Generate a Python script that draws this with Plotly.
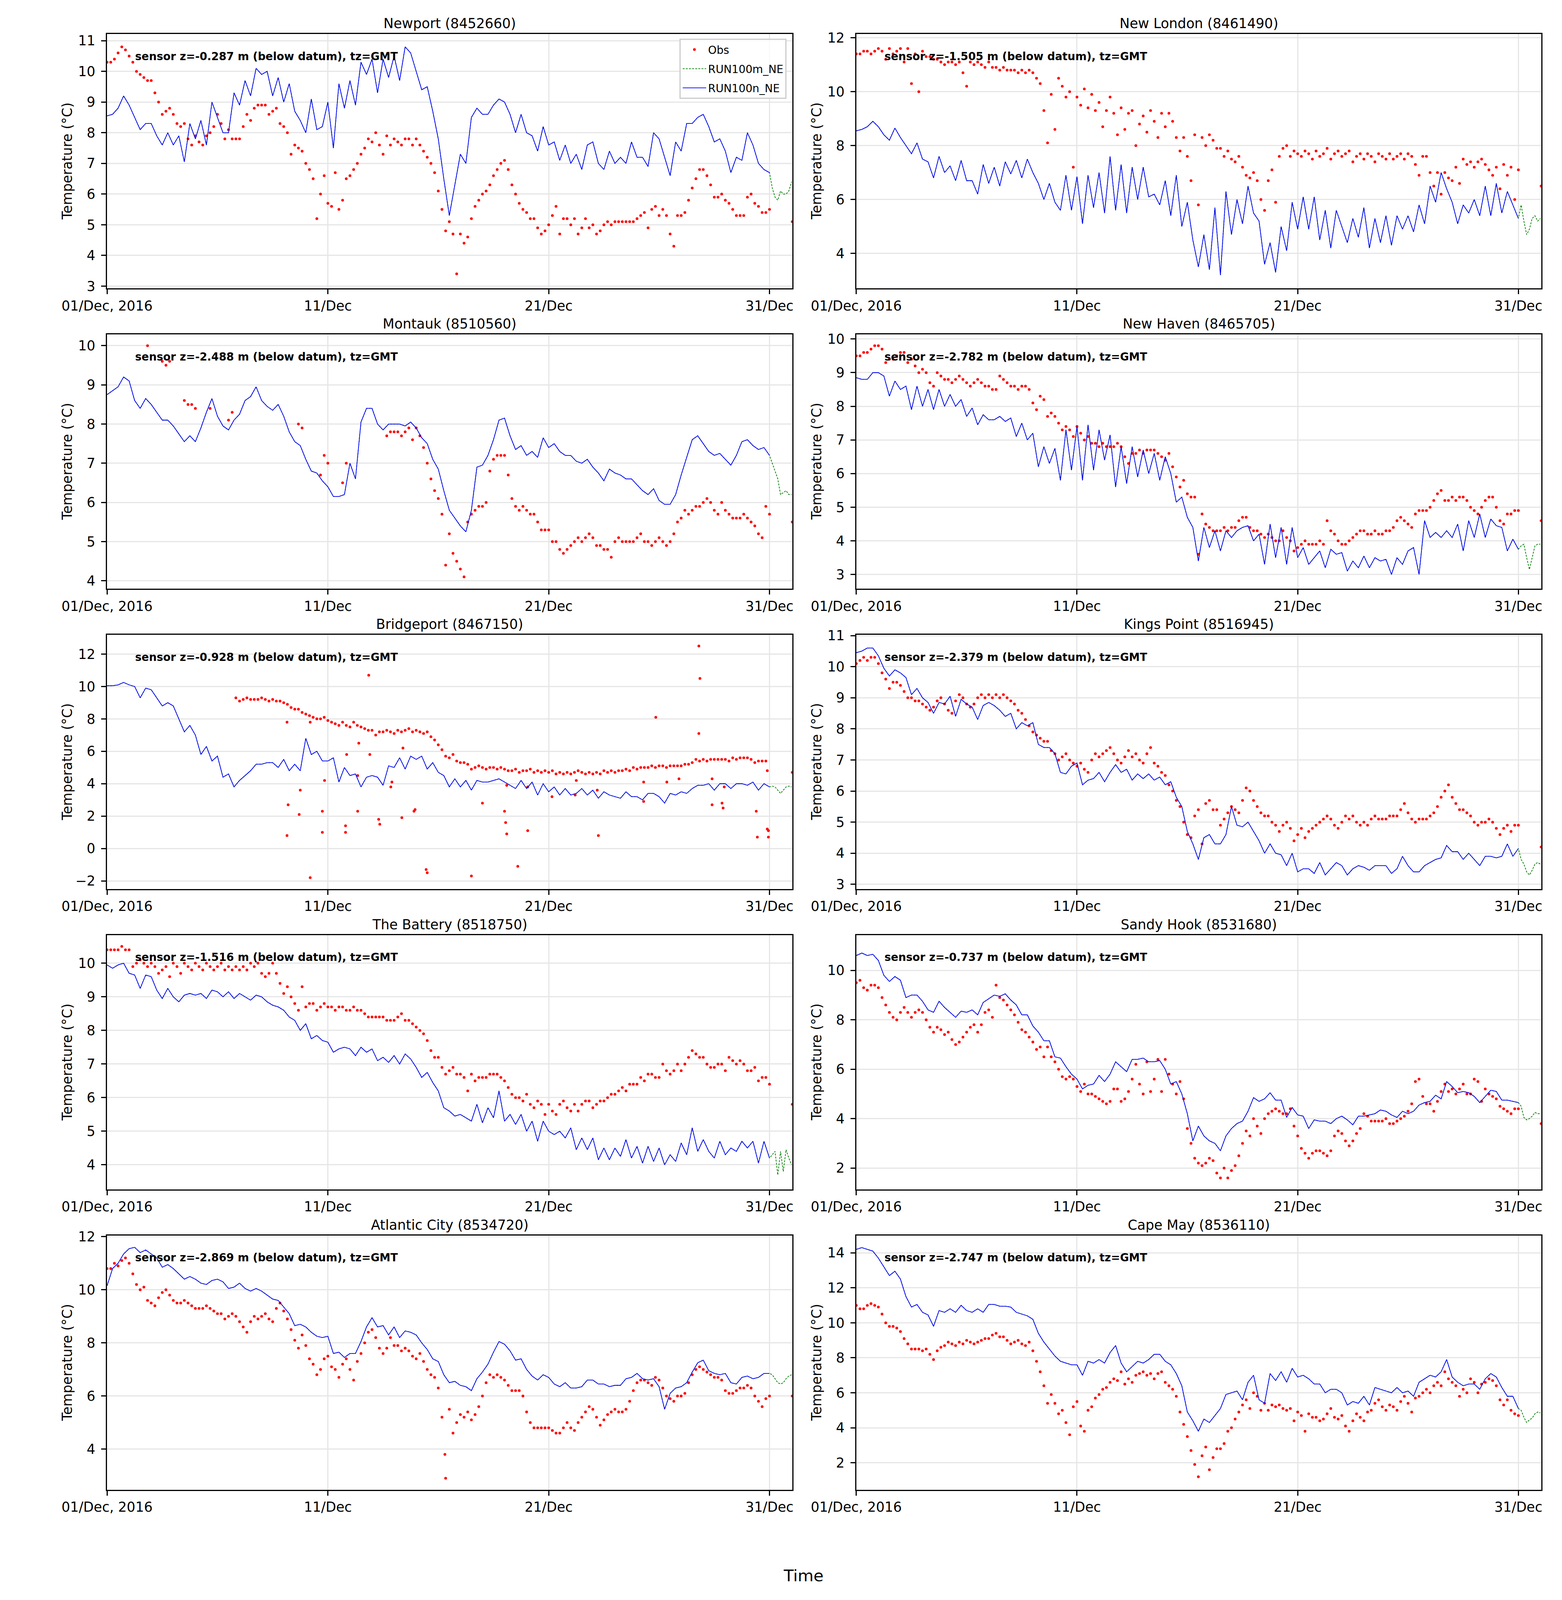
import pandas as pd
import plotly.graph_objects as go
from plotly.subplots import make_subplots

N = None

# model values every 6 h from 01/Dec 00:00 to 31/Dec 00:00 (RUN100n_NE, RUN100m_NE shares them)
# tails: RUN100m_NE only, every 3 h from 31/Dec 03:00 to 01/Jan 00:00
# obs: every 4 h from 01/Dec 00:00 to 31/Dec 00:00, plus one value at the end of the range

newport_model = [
    8.55, 8.6, 8.8, 9.2, 8.9, 8.5, 8.1, 8.3,
    8.3, 7.9, 7.6, 8.0, 7.6, 7.9, 7.05, 8.3,
    7.8, 8.4, 7.6, 9.0, 8.5, 8.0, 8.0, 9.3,
    8.9, 9.7, 9.2, 10.1, 9.9, 10.0, 9.2, 9.8,
    9.0, 9.6, 8.7, 8.4, 8.0, 9.1, 8.1, 8.2,
    9.0, 7.5, 9.6, 8.8, 9.7, 8.9, 10.3, 9.9,
    10.4, 9.3, 10.4, 9.8, 10.5, 9.7, 10.8, 10.6,
    10.0, 9.4, 9.5, 8.7, 7.8, 6.5, 5.3, 6.3,
    7.3, 7.0, 8.5, 8.8, 8.6, 8.6, 8.9, 9.1,
    9.0, 8.6, 8.0, 8.6, 8.0, 7.9, 7.4, 8.2,
    7.6, 7.7, 7.1, 7.6, 7.0, 7.3, 6.8, 7.6,
    7.7, 7.0, 6.8, 7.4, 7.0, 7.2, 7.0, 7.7,
    7.2, 7.2, 6.9, 8.0, 7.8, 7.2, 6.6, 7.7,
    7.4, 8.3, 8.3, 8.5, 8.6, 8.2, 7.7, 7.8,
    7.4, 6.7, 7.2, 7.1, 8.0, 7.6, 7.0, 6.8,
    6.7,
]
newport_tail = [6.2, 5.9, 5.8, 6.1, 6.0, 6.0, 6.1, 6.4]
newport_obs = [
    10.3, 10.3, 10.4, 10.6, 10.8, 10.7,
    10.5, 10.3, 10.0, 9.9, 9.8, 9.7,
    9.7, 9.3, 9.0, 8.6, 8.7, 8.8,
    8.6, 8.3, 8.2, 8.3, 7.8, 7.6,
    7.9, 7.7, 7.6, 7.9, 8.0, 8.2,
    8.6, 8.3, 7.8, 8.1, 7.8, 7.8,
    7.8, 8.2, 8.6, 8.4, 8.8, 8.9,
    8.9, 8.9, 8.6, 8.7, 8.8, 8.3,
    8.2, 8.0, 7.3, 7.6, 7.5, 7.4,
    7.0, 6.8, 6.5, 5.2, 6.0, 6.6,
    5.7, 5.6, 6.7, 5.5, 5.8, 6.5,
    6.6, 6.8, 7.0, 7.3, 7.5, 7.8,
    7.7, 8.0, 7.6, 7.3, 7.9, 7.6,
    7.8, 7.7, 7.6, 7.8, 7.8, 7.6,
    7.8, 7.6, 7.4, 7.2, 7.0, 6.7,
    6.1, 5.5, 4.8, 5.1, 4.7, 3.4,
    4.7, 4.4, 4.6, 5.2, 5.6, 5.8,
    6.0, 6.1, 6.3, 6.6, 6.8, 7.0,
    7.1, 6.8, 6.3, 6.0, 5.7, 5.5,
    5.4, 5.2, 5.2, 4.9, 4.7, 4.8,
    5.0, 5.3, 5.6, 4.7, 5.2, 5.2,
    5.0, 5.2, 4.7, 4.9, 5.2, 4.9,
    5.0, 4.7, 4.8, 5.0, 5.1, 5.0,
    5.1, 5.1, 5.1, 5.1, 5.1, 5.1,
    5.2, 5.3, 5.4, 4.9, 5.5, 5.6,
    5.3, 5.5, 5.3, 4.7, 4.3, 5.3,
    5.3, 5.4, 5.8, 6.2, 6.5, 6.8,
    6.8, 6.6, 6.3, 5.9, 5.9, 6.0,
    5.8, 5.7, 5.5, 5.3, 5.3, 5.3,
    5.9, 6.0, 5.7, 5.6, 5.4, 5.4,
    5.5,
]
newport_obs_end = 5.1

newlondon_model = [
    8.55, 8.6, 8.7, 8.9, 8.7, 8.4, 8.2, 8.65,
    8.3, 8.0, 7.7, 8.1, 7.5, 7.4, 6.8, 7.6,
    7.0, 7.25, 6.7, 7.45, 6.7, 6.7, 6.2, 7.3,
    6.6, 7.2, 6.5, 7.4, 6.95, 7.45, 6.8, 7.5,
    7.0, 6.6, 6.0, 6.6, 5.9, 5.6, 6.9, 5.6,
    6.85, 5.1, 6.9, 5.7, 7.0, 5.5, 7.6, 5.6,
    7.3, 5.5, 7.2, 6.0, 7.2, 6.1, 6.2, 5.8,
    6.7, 5.4, 6.9, 5.0, 5.9, 4.5, 3.5, 4.7,
    3.4, 5.7, 3.2, 6.3, 4.7, 6.0, 5.1, 6.5,
    5.5, 5.2, 3.6, 4.4, 3.3, 5.0, 4.1, 5.9,
    4.9, 6.1, 4.9, 6.1, 4.5, 5.6, 4.2, 5.6,
    5.0, 4.4, 5.3, 4.6, 5.7, 4.2, 5.3, 4.4,
    5.4, 4.3, 5.4, 4.9, 5.4, 4.8, 5.8, 5.1,
    6.5, 5.9, 7.0, 6.4, 5.9, 5.1, 5.8, 5.5,
    6.0, 5.4, 6.5, 5.4, 6.6, 5.5, 6.3, 5.8,
    5.3,
]
newlondon_tail = [5.8, 5.2, 4.7, 4.9, 5.3, 5.4, 5.2, 5.3]
newlondon_obs = [
    11.4, 11.4, 11.5, 11.5, 11.4, 11.5,
    11.6, 11.5, 11.2, 11.6, 11.4, 11.5,
    11.6, 11.1, 11.6, 10.3, 11.4, 10.0,
    11.5, 11.3, 11.3, 11.2, 11.2, 11.1,
    11.0, 11.1, 11.1, 11.0, 11.1, 10.7,
    10.2, 11.1, 11.0, 11.1, 11.0, 10.9,
    11.1, 10.9, 10.9, 10.8, 10.9, 10.8,
    10.8, 10.8, 10.7, 10.8, 10.7, 10.8,
    10.7, 10.5, 10.3, 9.3, 8.1, 9.9,
    8.6, 10.5, 10.2, 9.8, 10.0, 7.2,
    9.8, 9.5, 10.1, 9.4, 9.9, 9.3,
    9.6, 8.7, 9.3, 9.8, 9.2, 8.4,
    9.4, 8.6, 9.2, 9.3, 8.0, 8.8,
    9.1, 8.5, 9.3, 8.9, 8.3, 9.2,
    8.7, 9.2, 8.9, 8.3, 7.8, 8.3,
    7.6, 6.7, 8.4, 5.8, 8.3, 8.0,
    8.4, 8.2, 7.9, 7.9, 7.6, 7.8,
    7.5, 7.4, 7.6, 7.2, 6.9, 6.8,
    7.0, 6.7, 6.0, 5.6, 6.7, 7.1,
    5.9, 7.6, 7.9, 8.0, 7.6, 7.8,
    7.7, 7.6, 7.8, 7.7, 7.5, 7.8,
    7.6, 7.7, 7.9, 7.5, 7.7, 7.8,
    7.6, 7.7, 7.8, 7.4, 7.6, 7.7,
    7.5, 7.7, 7.6, 7.4, 7.7, 7.6,
    7.5, 7.7, 7.5, 7.6, 7.7, 7.5,
    7.7, 7.6, 7.3, 6.9, 7.6, 7.6,
    7.0, 6.5, 7.0, 6.2, 7.0, 6.8,
    6.7, 7.2, 6.6, 7.5, 7.3, 7.4,
    7.2, 7.4, 7.5, 7.3, 7.1, 6.9,
    7.2, 6.4, 7.3, 6.9, 7.2, 6.0,
    7.1,
]
newlondon_obs_end = 6.5

montauk_model = [
    8.75, 8.85, 8.95, 9.2, 9.1, 8.6, 8.4, 8.65,
    8.5, 8.3, 8.1, 8.1, 7.95, 7.75, 7.55, 7.7,
    7.55, 7.9, 8.3, 8.65, 8.2, 7.95, 7.85, 8.1,
    8.25, 8.6, 8.7, 8.95, 8.6, 8.45, 8.35, 8.5,
    8.2, 7.8, 7.55, 7.45, 7.1, 6.8, 6.75, 6.55,
    6.4, 6.15, 6.15, 6.2, 7.0, 6.6, 8.05, 8.4,
    8.4, 8.0, 7.85, 8.0, 8.0, 8.0, 7.95, 8.05,
    7.9, 7.65, 7.5, 7.1, 6.85, 6.3, 5.8, 5.6,
    5.4, 5.25, 5.8, 6.9, 6.95, 7.2, 7.6, 8.1,
    8.15, 7.7, 7.35, 7.45, 7.2, 7.3, 7.15, 7.65,
    7.4, 7.5, 7.3, 7.2, 7.2, 7.05, 7.0, 7.1,
    6.9, 6.75, 6.55, 6.85, 6.75, 6.7, 6.6, 6.6,
    6.45, 6.3, 6.2, 6.35, 6.05, 5.95, 5.95, 6.2,
    6.7, 7.15, 7.6, 7.7, 7.5, 7.3, 7.2, 7.25,
    7.1, 6.95, 7.2, 7.55, 7.6, 7.45, 7.35, 7.4,
    7.2,
]
montauk_tail = [7.0, 6.8, 6.6, 6.2, 6.25, 6.3, 6.2, 6.2]
montauk_obs = [
    N, N, N, N, N, N,
    N, N, N, N, N, 10.0,
    N, N, N, 9.6, 9.5, 9.6,
    N, N, N, 8.6, 8.5, 8.5,
    8.4, N, N, N, 8.4, N,
    N, N, N, 8.1, 8.3, N,
    N, N, N, N, N, N,
    N, N, N, N, N, N,
    N, N, N, N, 8.0, 7.9,
    N, N, N, N, 6.7, 7.2,
    7.0, N, N, N, 6.5, 7.0,
    N, N, N, N, N, N,
    N, N, N, N, 7.7, 7.8,
    7.8, 7.8, 7.7, 7.8, 7.9, 7.6,
    7.9, 7.7, 7.4, 7.0, 6.6, 6.3,
    6.1, 5.7, 4.4, 5.2, 4.7, 4.5,
    4.3, 4.1, 5.5, 5.7, 5.8, 5.9,
    5.9, 6.0, 6.8, 7.1, 7.2, 7.2,
    7.2, 6.7, 6.1, 5.9, 5.8, 5.9,
    5.8, 5.7, 5.7, 5.5, 5.3, 5.3,
    5.3, 5.0, 5.0, 4.8, 4.7, 4.8,
    4.9, 5.0, 5.1, 5.0, 5.1, 5.2,
    5.1, 4.9, 4.9, 4.8, 4.8, 4.6,
    5.0, 5.1, 5.0, 5.0, 5.0, 5.0,
    5.1, 5.2, 5.0, 5.0, 4.9, 5.0,
    5.1, 5.0, 4.9, 5.0, 5.2, 5.5,
    5.6, 5.8, 5.7, 5.8, 5.9, 5.9,
    6.0, 6.1, 6.0, 5.8, 5.7, 6.0,
    5.8, 5.7, 5.6, 5.6, 5.6, 5.7,
    5.6, 5.5, 5.4, 5.2, 5.1, 5.9,
    5.7,
]
montauk_obs_end = 5.5

newhaven_model = [
    8.85, 8.8, 8.8, 9.0, 9.0, 8.9, 8.3, 8.75,
    8.5, 8.6, 7.9, 8.6, 8.0, 8.5, 7.9, 8.5,
    8.0, 8.35, 8.0, 8.2, 7.7, 7.95, 7.45, 7.75,
    7.6, 7.6, 7.7, 7.55, 7.65, 7.1, 7.5, 7.0,
    7.2, 6.2, 6.8, 6.3, 6.75, 5.8, 7.3, 6.1,
    7.4, 5.8, 7.45, 6.1, 7.3, 6.4, 7.15, 5.6,
    6.8, 5.7, 6.8, 5.9, 6.7, 6.0, 6.6, 5.8,
    6.5, 6.0, 5.15, 5.3, 4.7, 4.4, 3.4, 4.4,
    3.8, 4.3, 3.7, 4.3, 4.1, 4.3, 4.4, 4.45,
    4.0, 4.2, 3.3, 4.5, 3.5, 4.4, 3.3, 4.4,
    3.5, 3.8, 3.3, 3.5, 3.7, 3.2, 3.75, 3.6,
    3.65, 3.1, 3.4, 3.2, 3.55, 3.2, 3.5, 3.4,
    3.45, 3.0, 3.5, 3.3, 3.7, 3.8, 3.0, 4.6,
    4.1, 4.25, 4.1, 4.3, 4.1, 4.5, 3.7, 4.6,
    4.1, 4.8, 4.1, 4.65, 4.45, 4.4, 3.7, 4.05,
    3.75,
]
newhaven_tail = [3.85, 3.9, 3.5, 3.15, 3.5, 3.85, 3.9, 3.9]
newhaven_obs = [
    9.5, 9.5, 9.6, 9.6, 9.7, 9.8,
    9.8, 9.7, 9.3, 9.4, 9.4, 9.5,
    9.6, 9.6, 9.3, 9.4, 9.2, 9.0,
    9.1, 9.0, 8.7, 8.6, 9.0, 8.9,
    8.8, 8.8, 8.7, 8.8, 8.9, 8.8,
    8.7, 8.6, 8.7, 8.8, 8.7, 8.6,
    8.6, 8.5, 8.5, 8.9, 8.8, 8.7,
    8.6, 8.6, 8.5, 8.6, 8.6, 8.5,
    8.1, 7.9, 8.3, 8.2, 7.7, 7.8,
    7.7, 7.5, 7.3, 7.4, 7.3, 7.1,
    7.4, 7.2, 7.0, 7.1, 6.9, 6.9,
    6.8, 6.9, 6.8, 6.8, 6.8, 6.9,
    6.8, 6.5, 6.3, 6.6, 6.6, 6.7,
    6.6, 6.7, 6.7, 6.7, 6.6, 6.5,
    6.4, 6.6, 6.2, 5.9, 5.6, 5.8,
    5.4, 5.3, 5.3, 3.6, 4.8, 4.5,
    4.4, 4.3, 4.3, 4.3, 4.4, 4.3,
    4.4, 4.4, 4.6, 4.7, 4.7, 4.4,
    4.3, 4.3, 4.2, 4.1, 4.2, 4.1,
    4.0, 4.0, 4.3, 4.1, 4.0, 3.7,
    3.8, 3.9, 4.0, 3.9, 3.9, 3.9,
    4.0, 3.9, 4.6, 4.3, 4.2, 4.0,
    3.9, 3.9, 4.0, 4.1, 4.2, 4.3,
    4.3, 4.2, 4.2, 4.3, 4.2, 4.2,
    4.3, 4.3, 4.4, 4.6, 4.7, 4.6,
    4.5, 4.4, 4.8, 4.9, 4.9, 4.9,
    5.0, 5.2, 5.4, 5.5, 5.2, 5.2,
    5.3, 5.2, 5.3, 5.3, 5.2, 5.0,
    4.9, 4.8, 5.0, 5.2, 5.3, 5.3,
    5.0, 4.6, 4.5, 4.8, 4.8, 4.9,
    4.9,
]
newhaven_obs_end = 4.6

bridgeport_model = [
    10.05, 10.05, 10.1, 10.25, 10.1, 10.0, 9.3, 9.9,
    9.8, 9.3, 8.8, 9.0, 8.8, 8.0, 7.2, 7.6,
    7.0, 5.8, 6.3, 5.4, 5.7, 4.4, 4.6, 3.8,
    4.2, 4.5, 4.8, 5.2, 5.2, 5.3, 5.3, 5.0,
    5.5, 4.8, 5.2, 4.8, 6.8, 5.8, 6.0, 5.4,
    5.4, 5.6, 4.1, 5.0, 4.5, 4.6, 3.8, 4.4,
    4.5, 4.4, 3.9, 5.1, 5.0, 5.6, 4.9, 5.7,
    5.5, 5.7, 4.9, 5.3, 4.7, 4.5, 3.8, 4.3,
    3.8, 4.2, 3.6, 4.2, 4.1, 4.1, 4.2, 4.3,
    4.1, 3.9, 3.7, 4.2, 3.7, 4.1, 3.3, 4.0,
    3.5, 3.8, 3.3, 3.7, 3.3, 3.4, 3.7, 3.3,
    3.6, 3.1, 3.5, 3.3, 3.2, 3.1, 3.5, 3.2,
    3.2, 3.0, 3.4, 3.4, 3.2, 2.8, 3.4, 3.3,
    3.5, 3.4, 3.7, 3.9, 3.9, 4.0, 3.6, 4.0,
    4.0, 3.7, 4.0, 4.0, 3.9, 4.1, 3.6, 4.0,
    3.8,
]
bridgeport_tail = [3.85, 3.8, 3.6, 3.4, 3.6, 3.8, 3.85, 3.8]
bridgeport_obs = [
    N, N, N, N, N, N,
    N, N, N, N, N, N,
    N, N, N, N, N, N,
    N, N, N, N, N, N,
    N, N, N, N, N, N,
    N, N, N, N, N, 9.3,
    9.1, 9.2, 9.3, 9.2, 9.2, 9.2,
    9.3, 9.2, 9.1, 9.2, 9.1, 9.1,
    9.0, 8.9, 8.7, 8.6, 8.6, 8.4,
    8.3, 8.2, 8.1, 8.0, 8.0, 8.1,
    7.9, 7.8, 7.7, 7.6, 7.8, 7.6,
    7.5, 7.8, 7.6, 7.5, 7.4, 7.3,
    7.3, 7.0, 7.2, 7.2, 7.3, 7.2,
    7.1, 7.3, 7.2, 7.3, 7.4, 7.2,
    7.3, 7.2, 7.1, 7.2, 6.9, 6.7,
    6.4, 6.1, 5.7, 5.6, 5.8, 5.4,
    5.3, 5.3, 5.2, 4.9, 5.0, 5.1,
    5.0, 4.9, 5.0, 5.0, 4.9, 5.0,
    4.9, 4.8, 4.8, 4.9, 4.7, 4.8,
    4.8, 4.9, 4.7, 4.8, 4.7, 4.8,
    4.7, 4.8, 4.6, 4.7, 4.6, 4.7,
    4.6, 4.7, 4.8, 4.7, 4.6, 4.7,
    4.6, 4.7, 4.6, 4.8, 4.7, 4.8,
    4.7, 4.8, 4.8, 4.9, 4.8, 5.0,
    4.9, 5.0, 5.0, 5.0, 5.1, 5.0,
    5.1, 5.1, 5.0, 5.1, 5.1, 5.1,
    5.1, 5.2, 5.2, 5.3, 5.5, 5.4,
    5.5, 5.4, 5.5, 5.5, 5.5, 5.5,
    5.5, 5.4, 5.6, 5.5, 5.6, 5.6,
    5.6, 5.5, 5.3, 5.4, 5.4, 5.4,
    N,
]
bridgeport_obs_end = 4.7
# scattered bad readings (day offset from 01/Dec, value)
bridgeport_spike_day = [
    8.15, 8.15, 8.2, 8.7, 8.75, 9.2, 9.2, 9.75, 9.75, 9.85, 10.8, 10.8, 10.85,
    11.35, 11.35, 11.4, 11.85, 11.9, 12.3, 12.35, 12.85, 12.9, 13.35, 13.4,
    13.9, 13.95, 14.45, 14.5, 16.5, 17.0, 18.0, 18.05, 18.1, 18.1, 18.6,
    19.05, 19.05, 20.15, 21.25, 21.2, 22.2, 22.25, 24.3, 24.3, 24.85, 25.35,
    25.9, 26.8, 26.85, 26.8, 27.4, 27.4, 27.85, 27.9, 27.95, 29.4, 29.45,
    29.9, 29.95, 29.95, 29.9,
]
bridgeport_spike_val = [
    7.8, 0.8, 2.7, 2.1, 3.6, 7.8, -1.8, 1.0, 2.3, 4.2, 1.4, 1.0, 5.8,
    2.3, 4.5, 6.5, 10.7, 5.8, 1.8, 1.5, 3.8, 4.1, 1.9, 6.2,
    2.3, 2.4, -1.3, -1.5, -1.7, 2.8, 2.3, 1.6, 0.9, 3.9, -1.1,
    1.1, 3.8, 3.2, 4.2, 3.3, 3.6, 0.8, 4.1, 2.9, 8.1, 4.1,
    4.3, 12.5, 10.5, 7.1, 2.7, 4.3, 2.8, 2.5, 3.8, 2.3, 0.7,
    1.2, 1.1, 0.7, 4.8,
]

kingspoint_model = [
    10.45, 10.5, 10.6, 10.6, 10.35, 9.95, 9.7, 9.9,
    9.8, 9.65, 9.1, 9.3, 9.0, 8.85, 8.5, 8.85,
    8.8, 9.05, 8.4, 8.95, 8.8, 8.7, 8.3, 8.75,
    8.85, 8.75, 8.6, 8.4, 8.5, 8.0, 8.2, 8.1,
    8.2, 7.5, 7.4, 7.4, 7.2, 6.6, 6.55, 6.8,
    6.9, 6.2, 6.35, 6.4, 6.6, 6.3, 6.6, 6.85,
    6.6, 6.7, 6.35, 6.55, 6.4, 6.55, 6.35, 6.45,
    6.2, 6.3, 5.8, 5.5, 4.7, 4.3, 3.8, 4.5,
    4.6, 4.3, 4.3, 4.6, 5.5, 4.9, 4.85, 5.0,
    4.7, 4.4, 4.0, 4.3, 4.0, 3.95, 3.6, 4.0,
    3.4, 3.5, 3.5, 3.35, 3.7, 3.3, 3.5, 3.7,
    3.6, 3.3, 3.5, 3.6, 3.55, 3.45, 3.6, 3.6,
    3.6, 3.35, 3.5, 3.9, 3.6, 3.4, 3.4, 3.6,
    3.7, 3.8, 3.85, 4.25, 4.05, 4.05, 3.8, 4.0,
    3.8, 3.6, 3.9, 3.9, 3.85, 3.9, 4.3, 3.9,
    4.15,
]
kingspoint_tail = [3.8, 3.65, 3.4, 3.3, 3.45, 3.65, 3.7, 3.65]
kingspoint_obs = [
    10.1, 10.2, 10.3, 10.2, 10.3, 10.3,
    10.1, 9.8, 9.6, 9.3, 9.5, 9.5,
    9.4, 9.2, 9.0, 9.0, 8.9, 8.9,
    8.8, 8.7, 8.6, 8.7, 8.9, 9.0,
    8.8, 8.6, 8.5, 8.9, 9.1, 9.0,
    8.8, 8.7, 8.8, 9.0, 9.1, 9.0,
    9.1, 9.0, 9.1, 9.0, 9.1, 9.0,
    8.9, 8.8, 8.6, 8.5, 8.3, 8.1,
    7.9, 7.8, 7.7, 7.6, 7.6, 7.3,
    7.2, 7.0, 7.1, 7.2, 7.0, 6.9,
    6.8, 6.9, 6.7, 6.6, 7.0, 7.2,
    7.1, 7.2, 7.3, 7.4, 7.2, 7.0,
    6.9, 7.1, 7.3, 7.1, 7.2, 7.0,
    6.9, 7.2, 7.4, 6.9, 6.8, 6.6,
    6.5, 6.2, 6.0, 5.7, 5.5, 5.0,
    4.6, 4.5, 5.2, 5.4, 4.3, 5.6,
    5.7, 5.4, 5.4, 4.9, 5.1, 5.3,
    5.5, 5.4, 5.3, 5.7, 6.1, 6.0,
    5.7, 5.5, 5.3, 5.2, 5.2, 5.0,
    4.9, 4.7, 4.9, 5.0, 4.8, 4.4,
    4.6, 4.8, 4.5, 4.7, 4.8, 4.9,
    5.0, 5.1, 5.2, 5.1, 4.9, 4.8,
    5.0, 5.2, 5.1, 5.2, 5.0, 4.9,
    5.0, 4.9, 5.1, 5.2, 5.1, 5.1,
    5.1, 5.2, 5.2, 5.2, 5.4, 5.6,
    5.3, 5.1, 5.0, 5.1, 5.1, 5.1,
    5.2, 5.3, 5.5, 5.8, 6.0, 6.2,
    5.8, 5.6, 5.4, 5.4, 5.3, 5.2,
    5.0, 4.9, 5.0, 5.0, 5.1, 5.0,
    4.8, 4.6, 4.8, 4.9, 4.7, 4.9,
    4.9,
]
kingspoint_obs_end = 4.2

battery_model = [
    9.95, 9.85, 9.95, 10.0, 9.7, 9.65, 9.25, 9.65,
    9.6, 9.2, 8.95, 9.25, 9.0, 8.85, 9.05, 9.1,
    9.05, 9.1, 8.95, 9.2, 9.15, 9.0, 9.15, 8.95,
    9.1, 9.0, 8.9, 9.05, 9.0, 8.85, 8.75, 8.7,
    8.6, 8.4, 8.3, 8.0, 8.2, 7.75, 7.85, 7.7,
    7.65, 7.35, 7.45, 7.5, 7.45, 7.25, 7.5, 7.35,
    7.45, 7.1, 7.2, 7.05, 7.25, 7.0, 7.3, 7.15,
    6.9, 6.6, 6.75, 6.45, 6.2, 5.7, 5.6, 5.45,
    5.5, 5.4, 5.3, 5.8, 5.25, 5.7, 5.4, 6.2,
    5.3, 5.5, 5.2, 5.5, 5.0, 5.3, 4.7, 5.3,
    5.0, 4.9, 5.0, 4.8, 5.1, 4.45, 4.8, 4.45,
    4.8, 4.15, 4.5, 4.15, 4.5, 4.25, 4.75, 4.2,
    4.55, 4.05, 4.55, 4.1, 4.5, 4.0, 4.3, 4.1,
    4.65, 4.3, 5.1, 4.4, 4.75, 4.4, 4.2, 4.7,
    4.3, 4.5, 4.4, 4.7, 4.5, 4.7, 4.05, 4.7,
    4.2,
]
battery_tail = [4.3, 4.4, 3.7, 4.4, 3.8, 4.45, 4.2, 4.0]
battery_obs = [
    10.4, 10.4, 10.4, 10.4, 10.5, 10.4,
    10.4, 9.9, 10.0, 10.1, 10.0, 9.9,
    10.0, 9.9, 9.7, 9.8, 9.9, 9.6,
    10.0, 9.9, 9.7, 10.0, 9.9, 9.8,
    10.0, 9.9, 9.8, 10.0, 9.9, 9.8,
    9.9, 10.0, 9.8, 9.9, 9.8, 9.9,
    9.8, 9.9, 9.8, 10.0, 9.9, 10.0,
    9.7, 9.6, 9.7, 10.0, 9.7, 9.4,
    9.1, 9.3, 9.0, 8.8, 8.6, 9.3,
    8.7, 8.8, 8.8, 8.6, 8.7, 8.8,
    8.7, 8.7, 8.6, 8.7, 8.7, 8.6,
    8.6, 8.7, 8.6, 8.6, 8.5, 8.4,
    8.4, 8.4, 8.4, 8.4, 8.3, 8.3,
    8.3, 8.4, 8.5, 8.3, 8.3, 8.2,
    8.1, 8.0, 7.9, 7.7, 7.4, 7.2,
    7.2, 6.9, 6.7, 6.8, 6.9, 6.7,
    6.7, 6.6, 6.2, 6.7, 6.5, 6.6,
    6.6, 6.6, 6.7, 6.7, 6.7, 6.6,
    6.5, 6.3, 6.1, 6.0, 6.0, 5.9,
    6.1, 5.8, 5.7, 5.9, 5.8, 5.5,
    5.8, 5.6, 5.5, 5.8, 5.9, 5.7,
    5.6, 5.8, 5.6, 5.8, 5.9, 5.9,
    5.7, 5.8, 5.9, 5.9, 6.0, 6.1,
    6.1, 6.2, 6.3, 6.2, 6.4, 6.4,
    6.4, 6.6, 6.5, 6.7, 6.7, 6.6,
    6.6, 7.0, 6.8, 6.7, 6.8, 7.0,
    6.8, 7.0, 7.2, 7.4, 7.3, 7.2,
    7.2, 7.0, 6.9, 6.9, 7.0, 7.0,
    6.8, 7.2, 7.1, 7.0, 7.1, 7.0,
    6.8, 6.8, 6.9, 6.5, 6.6, 6.6,
    6.4,
]
battery_obs_end = 5.8

sandyhook_model = [
    10.6, 10.7, 10.6, 10.65, 10.4, 9.8, 9.55, 9.75,
    9.6, 8.9, 9.0, 9.0, 8.75, 8.4, 8.3, 8.75,
    8.5, 8.3, 8.1, 8.35, 8.3, 8.4, 8.2, 8.7,
    8.85, 9.0, 8.95, 9.05, 8.8, 8.6, 8.2, 8.2,
    7.75, 7.5, 7.15, 7.15, 6.5, 6.45, 6.1, 5.8,
    5.6, 5.2, 5.35, 5.4, 5.75, 5.5, 5.8, 6.3,
    6.1, 5.9, 6.4, 6.4, 6.45, 6.3, 6.3, 6.35,
    6.0, 5.4, 5.5, 5.0, 4.2, 3.1, 3.7, 3.3,
    3.1, 3.0, 2.7, 3.3, 3.6, 3.8, 3.9, 4.3,
    4.85, 4.7, 4.8, 5.05, 4.75, 4.75, 4.05, 4.45,
    4.15, 4.1, 3.6, 3.95, 3.9, 3.9, 3.8, 4.0,
    4.1, 3.95, 3.75, 4.1, 4.1, 4.15, 4.2, 4.35,
    4.3, 4.15, 4.05, 4.3, 4.2, 4.3, 4.55, 4.65,
    4.7, 4.95, 4.8, 5.5, 5.3, 5.05, 5.1, 5.05,
    4.9, 4.65, 4.9, 5.15, 5.1, 4.75, 4.75, 4.7,
    4.65,
]
sandyhook_tail = [4.5, 4.05, 3.95, 4.0, 4.1, 4.25, 4.2, 4.2]
sandyhook_obs = [
    9.5, 9.6, 9.3, 9.2, 9.4, 9.4,
    9.3, 8.9, 8.6, 8.3, 8.1, 8.0,
    8.3, 8.5, 8.3, 8.1, 8.3, 8.4,
    8.3, 8.0, 7.7, 7.5, 7.7, 7.6,
    7.4, 7.5, 7.2, 7.0, 7.1, 7.3,
    7.5, 7.7, 7.8, 7.5, 7.8, 8.3,
    8.4, 8.1, 9.4, 8.9, 8.8, 8.6,
    8.4, 8.2, 7.9, 7.6, 7.5, 7.3,
    7.1, 6.8, 6.9, 6.5, 6.9, 6.5,
    6.3, 6.0, 5.7, 5.6, 5.7, 5.6,
    5.3, 5.1, 5.4, 5.0, 5.0, 4.9,
    4.8, 4.7, 4.6, 4.7, 5.2, 5.2,
    4.7, 4.8, 5.1, 5.6, 6.2, 5.4,
    5.0, 6.3, 5.1, 5.6, 6.4, 5.1,
    6.4, 5.8, 5.4, 5.0, 5.5, 4.8,
    3.6, 3.0, 2.4, 2.2, 2.1, 2.2,
    2.4, 2.3, 1.8, 1.6, 2.0, 1.6,
    1.9, 2.1, 2.5, 3.0, 3.5, 3.3,
    4.0, 3.7, 3.4, 4.0, 4.2, 4.3,
    4.4, 4.3, 4.2, 4.2, 4.4, 3.7,
    3.3, 2.8, 2.6, 2.4, 2.6, 2.7,
    2.7, 2.6, 2.5, 2.7, 3.3, 3.5,
    3.4, 3.1, 2.9, 3.1, 3.4, 3.6,
    4.2, 4.1, 3.9, 3.9, 3.9, 3.9,
    4.0, 3.8, 3.8, 3.9, 4.0, 4.1,
    4.3, 4.6, 5.5, 5.6, 4.9, 4.6,
    4.6, 4.3, 4.7, 5.1, 5.4, 5.1,
    5.2, 5.0, 5.2, 5.4, 5.0, 5.0,
    5.6, 5.5, 4.7, 5.2, 5.0, 4.9,
    4.8, 4.5, 4.4, 4.3, 4.2, 4.4,
    4.4,
]
sandyhook_obs_end = 3.8

atlantic_model = [
    10.15, 10.8, 11.0, 11.35, 11.55, 11.6, 11.4, 11.5,
    11.35, 11.2, 10.85, 10.95, 10.8, 10.6, 10.4, 10.5,
    10.4, 10.25, 10.2, 10.35, 10.4, 10.3, 10.05, 10.1,
    10.25, 10.05, 9.95, 10.05, 9.95, 9.8, 9.65, 9.6,
    9.35, 9.1, 8.65, 8.7, 8.6, 8.4, 8.25, 8.2,
    8.25, 7.6, 7.65, 7.45, 7.6, 7.6, 8.05, 8.6,
    8.95, 8.6, 8.65, 8.3, 8.6, 8.2, 8.45, 8.4,
    8.3, 8.0, 7.75, 7.4, 7.3, 6.8, 6.5, 6.55,
    6.4, 6.35, 6.2, 6.65, 6.9, 7.2, 7.65, 8.05,
    7.95, 7.7, 7.35, 7.4, 7.0, 6.75, 6.6, 6.8,
    6.7, 6.45, 6.35, 6.5, 6.3, 6.3, 6.35, 6.6,
    6.6, 6.45, 6.45, 6.35, 6.4, 6.4, 6.65, 6.7,
    6.85, 6.65, 6.6, 6.65, 6.35, 5.5, 6.1, 6.3,
    6.35, 6.5, 6.9, 7.25, 7.35, 6.95, 6.85, 6.8,
    6.85, 6.5, 6.45, 6.7, 6.75, 6.65, 6.7, 6.85,
    6.85,
]
atlantic_tail = [6.8, 6.65, 6.5, 6.45, 6.5, 6.65, 6.75, 6.8]
atlantic_obs = [
    10.8, 10.8, 11.0, 10.9, 11.1, 11.2,
    11.0, 10.6, 10.2, 10.0, 10.1, 9.6,
    9.5, 9.4, 9.7, 9.9, 10.0, 9.8,
    9.6, 9.5, 9.5, 9.6, 9.5, 9.4,
    9.3, 9.3, 9.3, 9.4, 9.3, 9.2,
    9.1, 9.1, 8.9, 9.0, 9.1, 9.0,
    8.8, 8.6, 8.4, 8.8, 9.0, 8.9,
    9.0, 9.1, 8.9, 8.8, 9.3, 9.5,
    9.2, 8.9, 8.5, 8.1, 7.8, 8.3,
    7.9, 7.4, 7.2, 6.8, 7.0, 7.4,
    7.5, 7.1, 7.0, 6.7, 7.2, 7.4,
    7.0, 6.6, 7.3, 7.6, 8.0, 8.4,
    8.5, 8.2, 7.8, 7.6, 7.8, 8.2,
    7.9, 7.9, 7.7, 7.8, 7.7, 7.5,
    7.4, 7.6, 7.3, 7.0, 6.8, 6.7,
    6.3, 5.2, 2.9, 5.5, 4.6, 5.0,
    5.3, 5.2, 5.4, 5.1, 5.3, 5.6,
    6.0, 6.5, 6.8, 6.7, 6.8, 6.7,
    6.6, 6.4, 6.2, 6.2, 6.2, 6.0,
    5.4, 5.0, 4.8, 4.8, 4.8, 4.8,
    4.8, 4.7, 4.6, 4.6, 4.8, 5.0,
    4.8, 4.7, 5.0, 5.2, 5.4, 5.6,
    5.5, 5.2, 4.9, 5.1, 5.3, 5.4,
    5.5, 5.4, 5.4, 5.5, 5.8, 6.2,
    6.5, 6.6, 6.6, 6.5, 6.4, 6.7,
    6.6, 6.3, 6.0, 5.9, 5.8, 6.0,
    6.0, 6.1, 6.5, 6.8, 7.0, 7.1,
    7.0, 6.9, 6.8, 6.7, 6.7, 6.6,
    6.2, 6.1, 6.1, 6.2, 6.3, 6.3,
    6.4, 6.3, 6.0, 5.8, 5.6, 5.9,
    6.0,
]
atlantic_obs_end = 6.0
atlantic_spike_day = [15.3]
atlantic_spike_val = [3.8]

capemay_model = [
    14.2, 14.3, 14.2, 14.1, 13.7, 13.2, 12.7, 12.95,
    12.5, 11.5, 10.9, 11.05, 10.6, 10.45, 9.8, 10.7,
    10.6, 10.8, 10.6, 11.0, 10.7, 10.6, 10.8, 10.6,
    11.05, 11.05, 10.95, 10.95, 10.9, 10.6, 10.5, 10.4,
    10.2, 9.4, 8.9, 8.5, 8.1, 7.8, 7.7, 7.6,
    7.6, 7.0, 7.8, 7.7, 7.9, 7.7, 8.3, 8.7,
    7.7, 7.2, 7.5, 7.8, 7.7, 7.9, 8.2, 8.2,
    7.8, 7.6, 7.1, 6.4, 4.9, 4.4, 3.8, 4.5,
    4.3, 4.7, 5.1, 5.9, 6.0, 6.1, 5.6, 6.6,
    7.0, 5.6, 5.4, 7.1, 6.7, 7.2, 6.6, 7.4,
    6.9, 7.0, 6.8, 6.5, 6.5, 6.0, 6.2, 6.2,
    6.0, 5.3, 5.5, 5.4, 5.8, 5.3, 6.3, 6.2,
    6.1, 6.0, 6.3, 6.0, 6.1, 5.8, 6.6, 6.8,
    7.0, 6.9, 7.2, 7.9, 6.9, 6.6, 6.4, 6.5,
    6.5, 6.2, 6.8, 7.1, 6.9, 6.3, 5.8, 5.8,
    5.1,
]
capemay_tail = [5.0, 4.6, 4.3, 4.45, 4.55, 4.8, 4.9, 4.85]
capemay_obs = [
    11.0, 10.8, 10.8, 11.0, 11.1, 11.0,
    10.9, 10.5, 10.0, 9.8, 9.8, 9.7,
    9.5, 9.1, 8.8, 8.5, 8.5, 8.5,
    8.4, 8.5, 8.2, 7.9, 8.4, 8.6,
    8.7, 8.9, 8.8, 8.7, 8.9, 8.8,
    9.0, 8.9, 8.8, 8.9, 9.0, 9.1,
    9.1, 9.3, 9.4, 9.2, 9.2, 9.0,
    8.8, 8.9, 9.0, 8.8, 8.7, 8.9,
    8.4, 7.8, 7.2, 6.4, 5.4, 5.9,
    5.4, 4.8, 5.0, 4.3, 3.6, 5.2,
    5.5, 4.1, 3.8, 5.0, 5.2, 5.7,
    5.9, 6.2, 6.3, 6.6, 6.8, 6.7,
    7.2, 6.5, 6.8, 6.6, 7.0, 7.1,
    7.2, 7.0, 7.1, 6.8, 7.1, 7.2,
    6.6, 6.4, 6.2, 5.8, 4.9, 4.2,
    3.5, 2.7, 1.9, 1.2, 2.4, 2.9,
    1.6, 2.3, 2.8, 2.8, 3.1, 3.8,
    4.0, 4.5, 4.9, 5.3, 5.6, 5.1,
    6.0, 5.8, 5.0, 5.4, 5.0, 5.3,
    5.2, 5.3, 5.1, 5.0, 5.1, 4.4,
    4.9, 4.7, 3.8, 4.8, 4.6, 4.6,
    4.4, 4.5, 4.8, 5.1, 4.6, 4.5,
    4.7, 4.1, 3.8, 4.4, 4.8, 4.6,
    4.4, 4.9, 5.0, 5.4, 5.6, 5.2,
    5.0, 5.3, 5.2, 5.0, 5.5, 5.8,
    5.4, 4.9, 5.7, 5.8, 6.0, 6.2,
    6.0, 6.4, 6.6, 6.4, 7.2, 6.8,
    6.6, 6.4, 5.8, 6.2, 6.0, 6.8,
    6.6, 6.0, 6.5, 6.6, 6.8, 6.7,
    6.4, 5.6, 5.3, 5.6, 5.0, 4.8,
    4.7,
]
capemay_obs_end = None

stations = [
    ("Newport (8452660)", "-0.287", newport_model, newport_tail, newport_obs, newport_obs_end, (2.93, 11.22), 1),
    ("New London (8461490)", "-1.505", newlondon_model, newlondon_tail, newlondon_obs, newlondon_obs_end, (2.71, 12.14), 2),
    ("Montauk (8510560)", "-2.488", montauk_model, montauk_tail, montauk_obs, montauk_obs_end, (3.80, 10.29), 1),
    ("New Haven (8465705)", "-2.782", newhaven_model, newhaven_tail, newhaven_obs, newhaven_obs_end, (2.58, 10.14), 1),
    ("Bridgeport (8467150)", "-0.928", bridgeport_model, bridgeport_tail, bridgeport_obs, bridgeport_obs_end, (-2.5, 13.2), 2),
    ("Kings Point (8516945)", "-2.379", kingspoint_model, kingspoint_tail, kingspoint_obs, kingspoint_obs_end, (2.85, 11.03), 1),
    ("The Battery (8518750)", "-1.516", battery_model, battery_tail, battery_obs, battery_obs_end, (3.27, 10.84), 1),
    ("Sandy Hook (8531680)", "-0.737", sandyhook_model, sandyhook_tail, sandyhook_obs, sandyhook_obs_end, (1.14, 11.43), 2),
    ("Atlantic City (8534720)", "-2.869", atlantic_model, atlantic_tail, atlantic_obs, atlantic_obs_end, (2.47, 12.05), 2),
    ("Cape May (8536110)", "-2.747", capemay_model, capemay_tail, capemay_obs, capemay_obs_end, (0.46, 15.0), 2),
]
spikes = {
    4: (bridgeport_spike_day, bridgeport_spike_val),
    8: (atlantic_spike_day, atlantic_spike_val),
}

start = pd.Timestamp("2016-12-01")
end_t = pd.Timestamp("2017-01-01 00:45")
model_t = list(pd.date_range(start, periods=121, freq="6h"))
tail_t = list(pd.date_range(start + pd.Timedelta(hours=723), periods=8, freq="3h"))
obs_t = list(pd.date_range(start, periods=181, freq="4h"))
tick_t = [start + pd.Timedelta(days=d) for d in (0, 10, 20, 30)]
tick_txt = ["01/Dec, 2016", "11/Dec", "21/Dec", "31/Dec"]

# layout measured on the 4000x5000 reference, used as fractions of the page
RW, RH = 4000, 5000
FONT = "DejaVu Sans"
col_left = [162, 2140]
col_right = [1971, 3948]
row_top = [86, 1032, 1978, 2924, 3870]
ax_h = 801

fig = make_subplots(rows=5, cols=2)
annotations = []

for i, (title, zsens, model, tail, obs, obs_end, yr, dt) in enumerate(stations):
    r, c = i // 2, i % 2
    n = i + 1
    first = i == 0

    ox = list(obs_t)
    oy = list(obs)
    if obs_end is not None:
        ox.append(end_t)
        oy.append(obs_end)
    if i in spikes:
        ox += [start + pd.Timedelta(days=d) for d in spikes[i][0]]
        oy += spikes[i][1]

    fig.add_trace(go.Scatter(x=ox, y=oy, mode="markers", name="Obs",
                             marker=dict(color="#ff0000", size=7, line=dict(width=0)),
                             showlegend=first, legendgroup="obs"), row=r + 1, col=c + 1)
    fig.add_trace(go.Scatter(x=model_t + tail_t, y=model + tail, mode="lines", name="RUN100m_NE",
                             line=dict(color="#008000", width=1.8, dash="5px,3px"),
                             showlegend=first, legendgroup="m"), row=r + 1, col=c + 1)
    fig.add_trace(go.Scatter(x=model_t, y=model, mode="lines", name="RUN100n_NE",
                             line=dict(color="#0000ff", width=1.8),
                             showlegend=first, legendgroup="n"), row=r + 1, col=c + 1)

    x0, x1 = col_left[c] / RW, col_right[c] / RW
    top = 1 - row_top[r] / RH
    bot = top - ax_h / RH
    sfx = "" if n == 1 else str(n)
    axis_common = dict(showline=True, mirror=True, linecolor="black", linewidth=3,
                       ticks="outside", ticklen=12, tickwidth=2.5, tickcolor="black",
                       showgrid=True, gridcolor="#e6e6e6", gridwidth=2.5, zeroline=False,
                       tickfont=dict(family=FONT, size=34.7, color="black"))
    fig.layout["xaxis" + sfx].update(domain=[x0, x1], type="date", range=[start, end_t],
                                     tickvals=tick_t, ticktext=tick_txt, **axis_common)
    fig.layout["yaxis" + sfx].update(domain=[bot, top], range=list(yr), dtick=dt, tick0=0,
                                     ticklabelstandoff=8, **axis_common)

    annotations.append(dict(text=title, x=(x0 + x1) / 2, y=top + 33 / RH, xref="paper", yref="paper",
                            showarrow=False, xanchor="center", yanchor="middle",
                            font=dict(family=FONT, size=34.7, color="black")))
    annotations.append(dict(text="Temperature (°C)", x=(col_left[c] - 105) / RW, y=(top + bot) / 2,
                            xref="paper", yref="paper", textangle=-90, showarrow=False,
                            xanchor="center", yanchor="middle",
                            font=dict(family=FONT, size=34.7, color="black")))
    annotations.append(dict(text="<b>sensor z=%s m (below datum), tz=GMT</b>" % zsens,
                            x=0.04, y=0.912, xref="x%s domain" % sfx, yref="y%s domain" % sfx,
                            showarrow=False, xanchor="left", yanchor="middle",
                            font=dict(family=FONT, size=27.8, color="black")))

annotations.append(dict(text="Time", x=0.5, y=1 - 4942 / RH, xref="paper", yref="paper",
                        showarrow=False, xanchor="center", yanchor="middle",
                        font=dict(family=FONT, size=41.7, color="black")))

# no fixed size: the figure fills the browser window
fig.update_layout(
    autosize=True,
    margin=dict(l=0, r=0, t=0, b=0),
    paper_bgcolor="white", plot_bgcolor="white",
    font=dict(family=FONT, color="black"),
    annotations=annotations,
    legend=dict(x=1956 / RW, y=1 - 101 / RH, xanchor="right", yanchor="top",
                bgcolor="rgba(255,255,255,0.8)", bordercolor="#cccccc", borderwidth=3,
                font=dict(family=FONT, size=27.8, color="black"), itemwidth=60),
)

fix_page = "document.body.style.margin='0';document.body.style.overflow='hidden';"
fig.write_html("out.html", default_width="100vw", default_height="100vh",
               config={"displayModeBar": False}, post_script=fix_page)
